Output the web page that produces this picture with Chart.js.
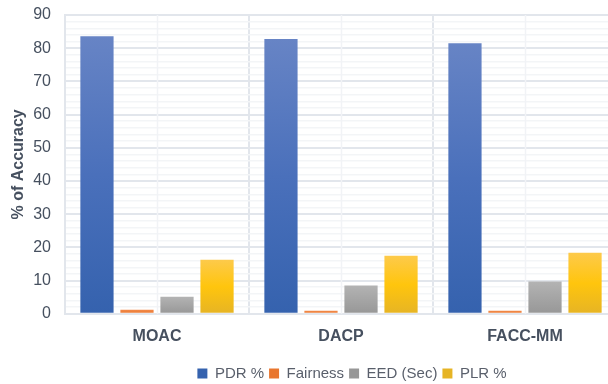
<!DOCTYPE html>
<html>
<head>
<meta charset="utf-8">
<script src="https://cdn.jsdelivr.net/npm/chart.js@4/dist/chart.umd.min.js"></script>
<style>
  html, body { margin: 0; padding: 0; background: #fff; overflow: hidden; }
  #wrap { width: 622px; height: 384px; }
</style>
</head>
<body>
<div id="wrap"><canvas id="c" width="622" height="384"></canvas></div>
<script>
const categories = ['MOAC', 'DACP', 'FACC-MM'];
const pdr = [83.6, 82.8, 81.5];
const fairness = [1.2, 0.9, 0.9];
const eed = [5.1, 8.5, 9.7];
const plr = [16.3, 17.5, 18.4];
const seriesNames = ['PDR %', 'Fairness', 'EED (Sec)', 'PLR %'];

const textColor = '#46505f';
const fontFamily = '"Liberation Sans", Arial, sans-serif';

// vertical gradient spanning each bar from its value down to zero
function barGradient(stops, solid) {
  return (ctx) => {
    const chart = ctx.chart;
    const y = chart.scales.y;
    if (!y || ctx.type !== 'data') return solid;
    const top = y.getPixelForValue(ctx.parsed.y);
    const bottom = y.getPixelForValue(0);
    if (!isFinite(top) || top === bottom) return solid;
    const g = chart.ctx.createLinearGradient(0, top, 0, bottom);
    stops.forEach(([o, c]) => g.addColorStop(o, c));
    return g;
  };
}

// light lines through the middle of each category
const centerLines = {
  id: 'centerLines',
  beforeDatasetsDraw(chart) {
    const { ctx, chartArea, scales } = chart;
    ctx.save();
    ctx.strokeStyle = '#f1f3f6';
    ctx.lineWidth = 1.5;
    categories.forEach((c, i) => {
      const x = Math.round(scales.x.getPixelForValue(i)) + 0.5;
      ctx.beginPath();
      ctx.moveTo(x, chartArea.top);
      ctx.lineTo(x, chartArea.bottom);
      ctx.stroke();
    });
    ctx.restore();
  }
};

// nudge the legend slightly right of the plot centre
const legendShift = {
  id: 'legendShift',
  afterUpdate(chart) {
    const lg = chart.legend;
    if (!lg) return;
    lg.left += 11;
    lg.right += 11;
    lg.adjustHitBoxes();
  }
};

new Chart(document.getElementById('c'), {
  type: 'bar',
  data: {
    labels: categories,
    datasets: [
      { label: seriesNames[0], data: pdr,
        backgroundColor: barGradient([[0, '#6784c5'], [0.5, '#4a70bb'], [1, '#3562ae']], '#4472c4') },
      { label: seriesNames[1], data: fairness,
        backgroundColor: barGradient([[0, '#f28a4a'], [1, '#e9762e']], '#ed7d31') },
      { label: seriesNames[2], data: eed,
        backgroundColor: barGradient([[0, '#b3b3b3'], [1, '#979797']], '#a5a5a5') },
      { label: seriesNames[3], data: plr,
        backgroundColor: barGradient([[0, '#fdca4b'], [0.5, '#ffc50d'], [1, '#e6b425']], '#ffc000') }
    ]
  },
  options: {
    responsive: false,
    animation: false,
    devicePixelRatio: 1,
    layout: { padding: { top: 0, right: 5, left: 4, bottom: -7 } },
    datasets: {
      bar: { categoryPercentage: 0.87, barPercentage: 0.83 }
    },
    scales: {
      x: {
        afterFit(scale) { scale.height += 2; },
        grid: { offset: true, color: '#e2e6ec', lineWidth: 2, drawTicks: false },
        border: { display: true, color: '#e2e6ec', width: 2 },
        ticks: {
          color: textColor, padding: 13,
          font: { family: fontFamily, size: 16, weight: 'bold' }
        }
      },
      y: {
        min: 0, max: 90,
        afterFit(scale) { scale.width = 61; scale.paddingTop = 15; },
        grid: {
          color: (c) => (c.tick && c.tick.value % 10 === 0) ? '#e2e6ec' : '#f3f5f7',
          lineWidth: (c) => (c.tick && c.tick.value % 10 === 0) ? 2 : 1.5,
          drawTicks: false
        },
        border: { display: true, color: '#e2e6ec', width: 2 },
        ticks: {
          stepSize: 2, autoSkip: false, padding: 14, color: textColor,
          font: { family: fontFamily, size: 16 },
          callback: (v) => (v % 10 === 0 ? String(v) : '')
        },
        title: {
          display: true, text: '% of Accuracy', color: textColor, padding: { top: 5, bottom: 6 },
          font: { family: fontFamily, size: 16, weight: 'bold' }
        }
      }
    },
    plugins: {
      legend: {
        position: 'bottom',
        fullSize: false,
        labels: {
          boxWidth: 10, boxHeight: 10, padding: 5, color: '#595f6b',
          font: { family: fontFamily, size: 15 }
        }
      },
      tooltip: { enabled: false }
    }
  },
  plugins: [centerLines, legendShift]
});
</script>
</body>
</html>
